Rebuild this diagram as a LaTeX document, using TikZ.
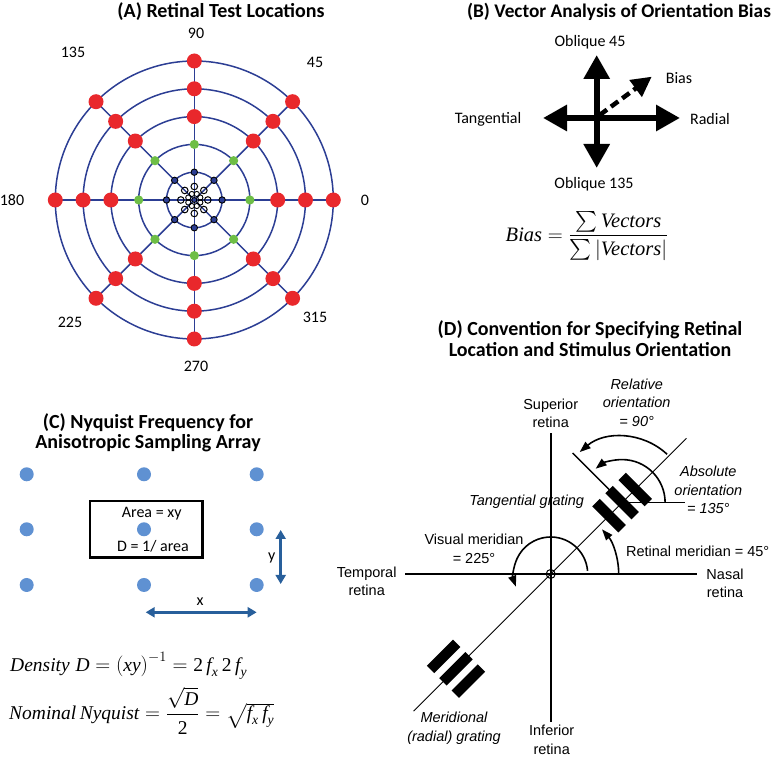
\documentclass[tikz,border=0pt]{standalone}
\usepackage{amsmath}
\usepackage{fontspec}
\setmainfont{Carlito}
\newfontfamily\tms{Liberation Serif}
\newfontfamily\dfont{Liberation Sans}
\usetikzlibrary{arrows.meta,calc}
\definecolor{navyl}{RGB}{44,62,148}
\definecolor{redd}{RGB}{233,40,44}
\definecolor{greend}{RGB}{110,190,70}
\definecolor{dotblue}{RGB}{95,145,210}
\definecolor{arrowblue}{RGB}{40,95,155}
\newcommand\tv[1]{\text{\tms\itshape #1}}
\newcommand\tn[1]{\text{\tms #1}}
\begin{document}
\begin{tikzpicture}[x=1pt,y=1pt,
  ttl/.style={font=\bfseries\fontsize{20}{20.5}\selectfont, align=center},
  lab/.style={font=\fontsize{16}{19}\selectfont},
  dlab/.style={font=\dfont\fontsize{14.5}{18.4}\selectfont, align=center},
  dital/.style={font=\dfont\itshape\fontsize{14.5}{18.4}\selectfont, align=center},
  ring/.style={navyl, line width=1.5pt},
  bigarrow/.style={line width=6pt,-{Triangle[length=24pt,width=25pt]}},
  daxis/.style={line width=1.8pt},
  arcarrow/.style={line width=1.6pt,-{Triangle[length=11pt,width=8pt]}},
  gbar/.style={fill=black, inner sep=0pt, minimum width=37pt, minimum height=10.5pt},
  barrow/.style={arrowblue, line width=2.7pt, {Triangle[length=9pt,width=10pt]}-{Triangle[length=9pt,width=10pt]}},
  fml/.style={font=\fontsize{20.5}{24}\selectfont, inner sep=0pt},
  fmlc/.style={font=\fontsize{19.5}{23}\selectfont, inner sep=0pt}
]
\useasboundingbox (0,0) rectangle (772,757);

% ---------------- Panel A ----------------
\node[ttl] (tA) at (221,745) {(A) Retinal Test Locations};
\coordinate (A) at (194.3,557);
\foreach \a in {0,45,...,315} \draw[ring] (A) -- ([shift={(\a:139pt)}]A);
\foreach \r in {1,...,5} \draw[ring] (A) circle[radius=\r*27.8pt];
\foreach \a in {0,45,...,315} {
  \fill[redd] ([shift={(\a:83.4pt)}]A) circle[radius=7.5pt];
  \fill[redd] ([shift={(\a:111.2pt)}]A) circle[radius=7.5pt];
  \fill[redd] ([shift={(\a:139pt)}]A) circle[radius=7.5pt];
  \fill[greend] ([shift={(\a:55.6pt)}]A) circle[radius=4.6pt];
  \filldraw[fill=navyl, draw=black, line width=0.9pt] ([shift={(\a:27.8pt)}]A) circle[radius=3.2pt];
  \draw[black, line width=1pt] ([shift={(\a:13.5pt)}]A) circle[radius=3.3pt];
  \draw[black, line width=0.9pt] ([shift={(\a+22.5:6.5pt)}]A) circle[radius=2.6pt];
}
\draw[black, line width=0.9pt] (A) circle[radius=2.5pt];
\node[lab] (l90) at (196,724) {90};
\node[lab] (l45) at (315,695) {45};
\node[lab] (l135) at (73,705) {135};
\node[lab] (l0) at (365,557) {0};
\node[lab] (l180) at (12,557) {180};
\node[lab] (l225) at (70,435) {225};
\node[lab] (l315) at (315,440) {315};
\node[lab] (l270) at (196,391) {270};

% ---------------- Panel B ----------------
\node[ttl, font=\bfseries\fontsize{19.3}{20}\selectfont] (tB) at (619,745) {(B) Vector Analysis of Orientation Bias};
\coordinate (B) at (596.7,639);
\coordinate (Bn) at (596.7,702);
\coordinate (Bs) at (596.7,589);
\coordinate (Bw) at (543,639);
\coordinate (Be) at (680,639);
\coordinate (Bb) at (651.7,680.3);
\draw[bigarrow] (B) -- (Bn);
\draw[bigarrow] (B) -- (Bs);
\draw[bigarrow] (B) -- (Bw);
\draw[bigarrow] (B) -- (Be);
\draw[line width=4.5pt, dash pattern=on 9pt off 5pt, -{Triangle[length=20pt,width=20pt]}] ($(B)+(3,3)$) -- (Bb);
\node[lab] (bn) at (590,714.3) {Oblique 45};
\node[lab] (bb) at (679,679.3) {Bias};
\node[lab] (be) at (710,638) {Radial};
\node[lab] (bw) at (488,638) {Tangential};
\node[lab] (bs) at (594,573) {Oblique 135};
\node[fml] (fb) at (587,521) {$\tv{Bias} = \dfrac{\sum\tv{Vectors}}{\sum\left|\tv{Vectors}\right|}$};

% ---------------- Panel C ----------------
\node[ttl] (tC) at (148,324) {(C) Nyquist Frequency for\\Anisotropic Sampling Array};
\foreach \x in {26.7,144,256.7} \foreach \y in {282.7,227.7,172} \fill[dotblue] (\x,\y) circle[radius=7pt];
\draw[line width=2.7pt] (90,256) rectangle (202.7,199.7);
\node[lab] (ca) at (151.7,243.7) {Area = xy};
\node[lab] (cd) at (153,210.3) {D = 1/ area};
\coordinate (ya) at (280.7,227);
\coordinate (yb) at (280.7,173);
\coordinate (xa) at (145.7,144.7);
\coordinate (xb) at (256.7,144.7);
\draw[barrow] (ya) -- (yb);
\draw[barrow] (xa) -- (xb);
\node[lab] (cy) at (271.7,199) {y};
\node[lab] (cx) at (200,155.3) {x};
\node[fmlc, anchor=base west] (fd) at (10,85.3) {$\tv{Density}\;\tv{D} = \left(\tv{xy}\right)^{-1} = \tn{2}\,\tv{f}_{\tv{x}}\,\tn{2}\,\tv{f}_{\tv{y}}$};
\node[fmlc, anchor=west] (fn) at (9,46.3) {$\tv{Nominal}\,\tv{Nyquist} = \dfrac{\sqrt{\tv{D}}}{\tn{2}} = \sqrt{\tv{f}_{\tv{x}}\,\tv{f}_{\tv{y}}}$};

% ---------------- Panel D ----------------
\node[ttl] (tD) at (590,418.5) {(D) Convention for Specifying Retinal\\Location and Stimulus Orientation};
\coordinate (O) at (550.7,183);
\coordinate (Dw) at (405,183);
\coordinate (De) at (696.7,183);
\coordinate (Dn) at (550.7,323.7);
\coordinate (Ds) at (550.7,34.7);
\coordinate (Dll) at ($(O)+(225:194pt)$);
\coordinate (Dur) at ($(O)+(45:192pt)$);
\coordinate (G) at ($(O)+(45:101pt)$);
\coordinate (Gp) at ($(G)+(135:70pt)$);
\coordinate (Gh) at ($(G)+(63pt,0)$);
\coordinate (M) at ($(O)+(225:134pt)$);

\node[dital] (dtg) at (526.7,255.3) {Tangential grating};
\draw[daxis] (Dw) -- (De);
\draw[daxis] (Dn) -- (Ds);
\draw[line width=0.9pt] (Dll) -- (Dur);
\draw[line width=1.4pt] (G) -- (Gp);
\draw[line width=1.4pt] (G) -- (Gh);
\draw[line width=1pt] (O) circle[radius=4.5pt];
\foreach \k in {-1,0,1} {
  \node[gbar, rotate=135] (gu\k) at ($(G)+(45:\k*18.5pt)$) {};
  \node[gbar, rotate=45] (gl\k) at ($(M)+(135:\k*17.5pt)$) {};
}
\draw[arcarrow] ([shift={(0:43pt)}]G) arc[start angle=0,end angle=128,radius=43pt];
\draw[arcarrow] ([shift={(47:66pt)}]G) arc[start angle=47,end angle=130,radius=66pt];
\draw[arcarrow] ([shift={(0:68pt)}]O) arc[start angle=0,end angle=41,radius=68pt];
\draw[arcarrow] ([shift={(5:37pt)}]O) arc[start angle=5,end angle=200,radius=37pt];

\node[dlab] (dsup) at (550.7,343.5) {Superior\\retina};
\node[dital] (drel) at (636.7,354.3) {Relative\\orientation\\= 90°};
\node[dital] (dabs) at (708.3,267) {Absolute\\orientation\\= 135°};
\node[dlab] (dvis) at (474,208) {Visual meridian\\= 225°};
\node[dlab] (dret) at (697.7,206) {Retinal meridian = 45°};
\node[dlab] (dtem) at (366.7,175.7) {Temporal\\retina};
\node[dlab] (dnas) at (725,173.5) {Nasal\\retina};
\node[dital] (dmer) at (454,28.7) {Meridional\\(radial) grating};
\node[dlab] (dinf) at (551.7,17) {Inferior\\retina};
\end{tikzpicture}
\end{document}
